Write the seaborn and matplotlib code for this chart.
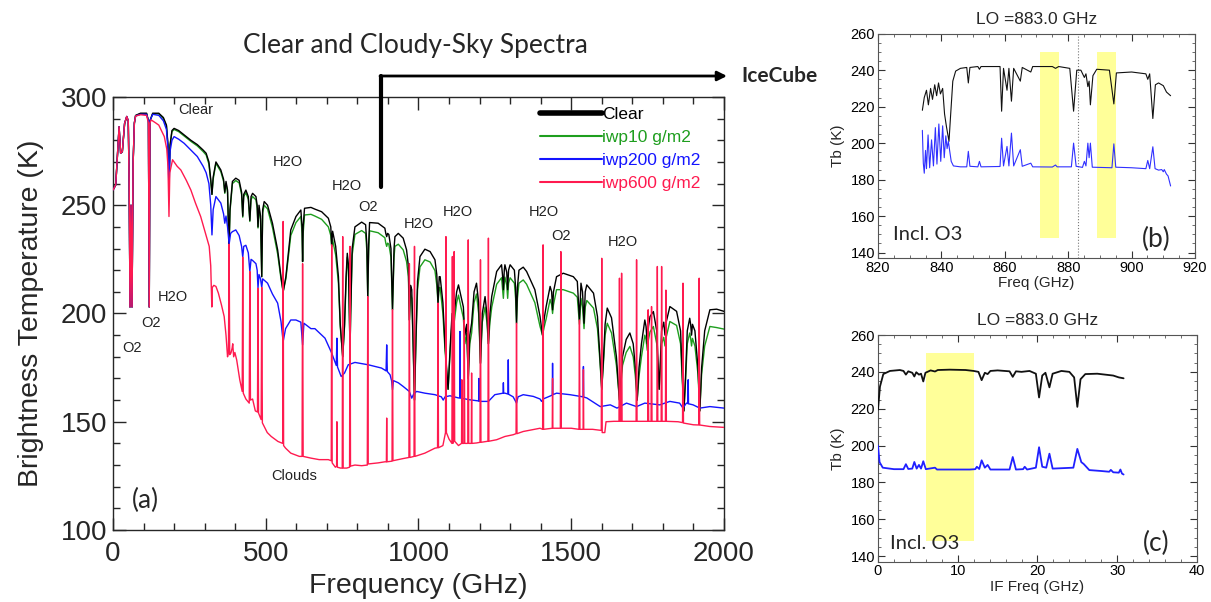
import seaborn as sns
import matplotlib.pyplot as plt
from matplotlib.ticker import MultipleLocator
from matplotlib.lines import Line2D

# ---------------- panel (a): frequency (GHz), Tb (K) ----------------
clear_pts = [
    (0, 257), (9, 259.4), (20, 286.3), (25, 274), (30.6, 274.8), (38, 287.8), (45, 291), (50, 289),
    (53, 260), (55.7, 203), (59, 250), (62.3, 203), (66, 270), (70, 288), (74, 291.5), (90, 292.5),
    (110, 292.5), (116, 289), (118.7, 203), (121, 289), (130, 292.5), (150, 292.5), (165, 290.5),
    (175, 287), (180, 278), (183.3, 262), (187, 278), (193, 284.5), (200, 285.5), (215, 284.5),
    (233, 282.5), (255, 280), (276, 278), (295, 275.5), (305, 274), (314, 270), (320, 262), (324, 255),
    (328, 263), (337, 270), (353, 266.3), (362, 262), (366, 256), (370, 261), (375, 257), (378, 240),
    (380.2, 232), (383, 248), (391, 261), (402, 262.5), (413, 261.5), (421, 256), (424.8, 245),
    (428, 255), (435, 257), (443, 254), (448, 243), (452, 254), (457, 255.5), (468, 254), (472, 250),
    (474.7, 240), (478, 250), (483, 245), (487, 217), (490, 248), (495, 251.7), (506, 250),
    (522, 241.7), (539, 229.4), (550, 217), (557, 210), (566, 217), (582, 238.6), (599, 244.8),
    (615, 247.8), (619, 240), (620.7, 224), (622.5, 240), (627, 248.6), (648, 249), (661, 248.2),
    (683, 247), (705, 244), (713, 240), (716, 231), (719, 238), (729, 231), (738, 217), (744, 195),
    (752, 180), (758, 195), (763, 217), (767, 227.8), (771, 222), (774, 200), (776, 183), (778, 200),
    (783, 230), (792, 240), (814, 242.2), (827, 241), (831, 232), (834, 207.8), (837, 232), (840, 242),
    (868, 241.7), (890, 239.4), (893, 237), (896, 235.5), (899, 237), (903, 236.5), (910, 230),
    (915, 201.7), (920, 230), (923, 235.5), (934, 237), (950, 234.8), (961, 229.4), (967, 222),
    (970.3, 197), (974, 213), (978, 211), (982, 190), (987, 160), (992, 190), (997, 215),
    (1005, 226.3), (1021, 229.7), (1038, 228.6), (1054, 224.8), (1060, 218), (1064, 204.8),
    (1068, 217), (1071, 217), (1080, 205), (1087, 185), (1097, 165), (1104, 185), (1110, 200),
    (1113, 190), (1117, 200), (1125, 210), (1131, 213.2), (1139, 208), (1147, 203), (1152, 190),
    (1158, 195), (1163, 170), (1168, 190), (1174, 195.5), (1182, 210), (1190, 214), (1197, 205),
    (1203, 177), (1209, 200), (1218, 207.8), (1224, 200), (1229, 186), (1234, 200), (1240, 208),
    (1256, 219.4), (1272, 222.5), (1275, 218), (1278, 211), (1281, 220), (1283, 222.5), (1289, 219),
    (1292, 211), (1295, 220), (1300, 222.5), (1314, 220), (1318, 212), (1321, 195.5), (1324, 212),
    (1329, 220), (1343, 221.4), (1354, 219.4), (1381, 211), (1398, 198.6), (1406, 190), (1412, 198),
    (1418, 203.2), (1431, 212.5), (1436, 210), (1439, 201.7), (1442, 210), (1452, 217), (1474, 218.6),
    (1507, 217), (1520, 214.8), (1527, 197), (1532, 214), (1537, 210), (1542, 195.5), (1546, 210),
    (1551, 213.2), (1573, 209.4), (1586, 198.6), (1594, 180), (1600, 165), (1606, 180), (1611, 195),
    (1618, 202.5), (1632, 198), (1648, 180), (1658, 160), (1668, 180), (1680, 188), (1692, 191),
    (1703, 186), (1710, 175), (1716, 160), (1722, 175), (1730, 186), (1741, 197), (1745, 194),
    (1749, 186), (1753, 194), (1758, 198.6), (1769, 200.9), (1780, 192), (1788, 165), (1796, 192),
    (1803, 196), (1807, 190), (1811, 196), (1823, 203.2), (1845, 201), (1858, 192), (1864, 170),
    (1869, 155), (1874, 170), (1880, 192), (1888, 197.8), (1891, 195), (1894, 190), (1897, 195),
    (1905, 192), (1915, 175), (1921, 155), (1927, 175), (1937, 192), (1954, 201.7), (1976, 202),
    (2000, 201),
]

iwp10_pts = [
    (0, 257), (9, 259.4), (20, 286), (25, 274), (30.6, 274.6), (38, 287.5), (45, 290.8), (50, 288.8),
    (53, 260), (55.7, 203), (59, 250), (62.3, 203), (66, 270), (70, 287.8), (74, 291.3), (90, 292.3),
    (110, 292.3), (116, 288.8), (118.7, 203), (121, 288.8), (130, 292.3), (150, 292.2), (165, 290),
    (175, 286.5), (180, 277.5), (183.3, 262), (187, 277.5), (193, 284), (200, 285), (215, 284),
    (233, 282), (255, 279.5), (276, 277.4), (295, 274.8), (305, 273.2), (314, 269), (320, 261),
    (324, 255), (328, 262), (337, 269.4), (353, 265.5), (362, 261), (366, 255.5), (370, 260),
    (375, 256), (378, 239), (380.2, 232), (383, 247), (391, 260), (402, 261.4), (413, 260.3),
    (421, 255), (424.8, 244.5), (428, 254), (435, 255.8), (443, 252.7), (448, 242.5), (452, 252.6),
    (457, 254), (468, 252.5), (472, 248.5), (474.7, 239.5), (478, 248.5), (483, 243.5), (487, 217),
    (490, 246.5), (495, 250), (506, 248.3), (522, 239.8), (539, 227.5), (550, 216), (557, 210),
    (566, 216), (582, 236), (599, 242), (615, 244.8), (619, 237), (620.7, 224), (622.5, 237),
    (627, 245.5), (648, 245.8), (661, 245), (683, 243.5), (705, 240), (713, 236), (716, 231),
    (719, 234), (729, 227), (738, 214), (744, 194), (752, 180), (758, 194), (763, 214), (767, 226),
    (771, 220), (774, 199), (776, 183), (778, 199), (783, 227), (792, 236.5), (814, 238.3),
    (827, 237), (831, 229), (834, 207.8), (837, 229), (840, 238.2), (868, 237.3), (890, 235),
    (893, 232.5), (896, 231), (899, 232.5), (903, 232), (910, 226), (915, 201.7), (920, 226),
    (923, 231), (934, 232), (950, 229.4), (961, 224), (967, 217), (970.3, 197), (974, 209),
    (978, 207), (982, 188), (987, 160), (992, 188), (997, 211), (1005, 221.5), (1021, 224.8),
    (1038, 223.8), (1054, 219.8), (1060, 213), (1064, 204.8), (1068, 212), (1071, 212), (1080, 200),
    (1087, 183), (1097, 165), (1104, 183), (1110, 196), (1113, 188), (1117, 196), (1125, 205),
    (1131, 208.5), (1139, 203), (1147, 198), (1152, 186), (1158, 191), (1163, 170), (1168, 186),
    (1174, 191), (1182, 205), (1190, 209), (1197, 200), (1203, 177), (1209, 196), (1218, 203),
    (1224, 196), (1229, 186), (1234, 196), (1240, 203), (1256, 213.5), (1272, 216.5), (1275, 212),
    (1278, 207), (1281, 214), (1283, 216.8), (1289, 213), (1292, 207), (1295, 214), (1300, 216.5),
    (1314, 214), (1318, 207), (1321, 195.5), (1324, 207), (1329, 214), (1343, 215.5), (1354, 213.5),
    (1381, 205), (1398, 194), (1406, 190), (1412, 194), (1418, 197.5), (1431, 206.5), (1436, 204),
    (1439, 200), (1442, 204), (1452, 211), (1474, 211), (1507, 209.4), (1520, 207.5), (1527, 195),
    (1532, 207), (1537, 203), (1542, 193), (1546, 203), (1551, 206), (1573, 202.5), (1586, 193),
    (1594, 178), (1600, 165), (1606, 178), (1611, 190), (1618, 195.5), (1632, 191), (1648, 176),
    (1658, 160), (1668, 176), (1680, 182), (1692, 184.8), (1703, 180), (1710, 171), (1716, 160),
    (1722, 171), (1730, 180), (1741, 190), (1745, 188), (1749, 183), (1753, 188), (1758, 191.5),
    (1769, 194), (1780, 186), (1788, 165), (1796, 186), (1803, 189), (1807, 185), (1811, 189),
    (1823, 196.3), (1845, 194.5), (1858, 186), (1864, 168), (1869, 155), (1874, 168), (1880, 186),
    (1888, 191), (1891, 188.5), (1894, 185), (1897, 188.5), (1905, 185), (1915, 172), (1921, 155),
    (1927, 172), (1937, 185), (1954, 194), (1976, 193.5), (2000, 192.8),
]

iwp200_pts = [
    (0, 257), (9, 259.4), (20, 286.3), (25, 274), (30.6, 274.8), (38, 287.8), (45, 291), (50, 289),
    (53, 260), (55.7, 203), (59, 250), (62.3, 203), (66, 270), (70, 288), (74, 291.2), (90, 292),
    (110, 292), (116, 289), (118.7, 203), (121, 289), (130, 292), (150, 291.5), (165, 289),
    (175, 285), (180, 276), (183.3, 257), (187, 275), (193, 280), (200, 281.7), (215, 280.5),
    (233, 278.6), (255, 275.5), (276, 272.5), (295, 268), (305, 265), (314, 260), (320, 250),
    (324, 236.3), (328, 248), (337, 254), (353, 251), (362, 246), (366, 241.7), (370, 245),
    (375, 240), (380.2, 232), (385, 237), (391, 237.8), (402, 238.6), (413, 236), (421, 231),
    (424.8, 226), (428, 231), (435, 231.5), (443, 228), (448, 219.4), (452, 225), (457, 224.5),
    (468, 223), (472, 220), (474.7, 211.7), (478, 218), (483, 216), (487, 212), (490, 216),
    (506, 214), (522, 209), (539, 204.8), (550, 196.3), (557, 187), (565, 193), (582, 197),
    (599, 197), (615, 196), (620.7, 185.5), (625, 195.5), (648, 193), (661, 193), (694, 188.6),
    (716, 181.7), (731, 176), (733, 188.6), (735, 175.3), (747, 170.9), (758, 172.5), (770, 176.3),
    (792, 177.4), (836, 176.3), (879, 174.8), (894, 173.5), (896, 185.5), (898, 173.2),
    (907, 171.7), (912, 169), (915, 164.8), (918, 169), (934, 168), (950, 166.3), (970, 164),
    (978, 160.9), (985, 163), (994, 164), (1021, 163.2), (1054, 162.5), (1075, 161.5), (1081, 160),
    (1087, 161.5), (1103, 162), (1131, 161), (1135, 161), (1136, 191.7), (1137, 161), (1165, 160.2),
    (1197, 159.6), (1198, 170), (1199, 159.5), (1207, 159.4), (1229, 159.4), (1250, 162.5),
    (1277, 163.2), (1278, 168), (1279, 163.2), (1283, 163.2), (1293, 162.8), (1294, 178.6),
    (1295, 162.7), (1310, 161.5), (1321, 158.6), (1326, 161.5), (1343, 162.5), (1376, 161.7),
    (1398, 160.5), (1403, 159.4), (1408, 160.5), (1438, 162.3), (1439, 177), (1440, 162.5),
    (1452, 163.2), (1496, 162.5), (1539, 161.5), (1540, 175.5), (1541, 161.4), (1551, 161),
    (1595, 157), (1628, 157.8), (1650, 156.3), (1681, 158.6), (1714, 157), (1741, 158.6),
    (1790, 157.8), (1823, 159.4), (1855, 158.6), (1866, 156.3), (1877, 158.6), (1882, 158.4),
    (1883, 169.4), (1884, 158.3), (1899, 157.8), (1921, 156.3), (1954, 157), (2000, 156.3),
]

iwp600_pts = [
    (0, 257), (9, 259.4), (20, 286.3), (25, 274), (30.6, 274.8), (38, 287.8), (45, 291), (50, 289),
    (53, 260), (55.7, 203), (59, 250), (62.3, 203), (66, 270), (70, 288), (74, 291.2), (90, 291.8),
    (110, 291.5), (116, 288), (118.7, 203), (121, 288), (125, 289.4), (140, 288), (150, 287),
    (160, 284), (168, 281.7), (176, 276), (180, 268), (183.3, 244.8), (186, 265), (195, 271),
    (210, 268), (222, 266.3), (240, 261.5), (255, 257), (270, 251), (287, 244.8), (305, 236),
    (315, 231), (320, 222), (322, 212), (323.5, 203), (325, 212), (330, 213), (337, 212.5),
    (345, 209.4), (355, 204), (364, 198.6), (370, 190), (375, 180), (378, 182), (380.2, 232),
    (382, 181), (386, 181.7), (390, 184), (392, 186), (395, 180), (399, 182), (405, 178.5),
    (415, 169.4), (423, 164), (424.8, 226), (426.5, 163.2), (435, 160.5), (446, 158.6), (448, 219.4),
    (450, 160), (457, 160.5), (466, 155), (473, 154.5), (474.7, 211.7), (476.5, 154), (485, 151),
    (487, 212), (489, 149.5), (505, 145), (518, 143.2), (540, 140.9), (555.5, 140), (557, 242.5),
    (558.5, 139), (565, 137.8), (582, 135.5), (610, 134), (619, 134), (620.7, 223), (622.5, 134),
    (648, 133.2), (675, 132.5), (705, 132.5), (714.5, 132), (716, 231.7), (717.5, 131), (728, 129),
    (732, 129.5), (733, 150), (734.5, 129), (745, 128.6), (750.5, 128.6), (752, 235.5), (753.5, 128.6),
    (765, 128.6), (774.5, 129), (776, 231), (777.5, 129.5), (792, 130), (814, 129.7), (832.5, 130),
    (834, 207.8), (835.5, 130.5), (868, 131), (890, 131.5), (895, 131.5), (896, 151.7), (897, 131.5),
    (913.5, 131.8), (915, 201.7), (916.5, 132), (950, 133), (968.8, 133.5), (970.3, 223),
    (971.8, 133.5), (985.5, 134), (987, 231), (988.5, 134), (1021, 135.5), (1054, 137.8),
    (1062.5, 138), (1064, 204.8), (1065.5, 138), (1080, 139), (1088.5, 145), (1090, 235.5),
    (1091.5, 145), (1100, 142), (1109.5, 140), (1111, 226.3), (1112.5, 140), (1115.5, 141),
    (1117, 228.6), (1118.5, 141), (1131, 139), (1141, 140), (1142, 169.4), (1143, 140),
    (1148.5, 140), (1150, 197), (1151.5, 140), (1161.5, 140), (1163, 234), (1164.5, 140),
    (1173, 140), (1174, 172.5), (1175, 140), (1190, 140.2), (1201.5, 140.5), (1203, 224.8),
    (1204.5, 140.5), (1227.5, 141), (1229, 234.8), (1230.5, 141), (1256, 141.7), (1283, 143.2),
    (1310, 144), (1319.5, 144.5), (1321, 195.5), (1322.5, 144.5), (1343, 145.5), (1398, 147),
    (1406.5, 146.5), (1408, 231.7), (1409.5, 146.5), (1438, 147), (1439, 170), (1440, 147),
    (1464.5, 147), (1466, 228.6), (1467.5, 147), (1500, 147), (1525.5, 146.5), (1527, 197),
    (1528.5, 146.5), (1539, 146.5), (1540, 174), (1541, 146.5), (1570, 146.5), (1598.5, 146),
    (1600, 225.5), (1601.5, 145), (1610, 145), (1614, 150), (1640, 150.2), (1656.5, 150.2),
    (1658, 216.3), (1659.5, 150.2), (1663.5, 150.2), (1665, 218.6), (1666.5, 150.2), (1700, 150.2),
    (1712.5, 150.2), (1714, 224.8), (1715.5, 150.2), (1750.5, 150.2), (1752, 201.7), (1753.5, 150.2),
    (1761.5, 150.2), (1763, 203.2), (1764.5, 150.2), (1780.5, 150.2), (1782, 221.7), (1783.5, 150.2),
    (1794.5, 150.2), (1796, 221.7), (1797.5, 150.2), (1808.5, 150.2), (1810, 210.8), (1811.5, 150.2),
    (1850, 150), (1864.5, 149.6), (1866, 214), (1867.5, 149.4), (1900, 148.6), (1917.5, 148.5),
    (1919, 216.3), (1920.5, 148.5), (1954, 147.8), (2000, 147.4),
]

series_names = ["Clear", "iwp10 g/m2", "iwp200 g/m2", "iwp600 g/m2"]
series_colors = ["#000000", "#1e9e1e", "#1414ff", "#ff1a4f"]

line_labels = ["Clear", "H2O", "H2O", "O2", "H2O", "H2O", "H2O", "O2", "H2O", "H2O", "O2", "O2", "Clouds"]
line_label_f = [271, 572, 765, 836, 1002, 1128, 1409, 1465, 1670, 195, 126, 63, 593]
line_label_tb = [294, 270.2, 258.9, 249.4, 241.4, 246.8, 247, 236, 232.8, 207.5, 195.5, 184, 124.8]

# ---------------- panel (b): RF frequency around LO ----------------
clear_b = [
    (834, 218), (834.6, 225), (835.3, 229), (835.9, 221), (836.6, 230), (837.2, 224), (837.9, 232),
    (838.5, 226), (839.1, 233), (839.7, 227), (840.4, 230), (841, 216), (841.6, 209), (842, 205),
    (842.4, 201), (842.9, 215), (843.6, 234), (844.5, 239.5), (846, 241), (848, 241.5), (848.5, 233),
    (849, 241.5), (851.5, 242), (852, 240.5), (852.5, 242), (858.5, 242), (859, 217.5), (859.6, 241),
    (860.7, 229), (861.3, 241), (862.1, 223), (862.8, 241), (864.9, 234), (865.5, 241.5),
    (868.2, 239), (868.8, 242), (875, 242), (876, 241), (877, 242), (880.5, 241), (881.7, 217.5),
    (882.7, 240), (884, 240), (885.1, 236), (885.6, 238), (886.2, 231), (886.6, 234), (887, 221),
    (887.8, 237), (889, 240.5), (893, 240), (894.4, 221.5), (895.2, 238.5), (900, 239),
    (904.5, 238), (905.1, 235), (905.7, 238), (906.7, 213.5), (907.5, 232), (908.5, 233),
    (910, 231.5), (911, 228), (912.3, 226),
]
cloudy_b = [
    (834, 207), (834.3, 189), (834.6, 183.5), (835, 196), (835.3, 186), (835.8, 204.5),
    (836.3, 186.5), (836.9, 201.8), (837.5, 187.5), (838.1, 208.5), (838.6, 188.5), (839.2, 210.5),
    (839.8, 190), (840.4, 209.5), (840.9, 192), (841.4, 204), (841.8, 197), (842.2, 201),
    (842.6, 196), (843.1, 190), (843.8, 187.5), (846, 187), (848, 187), (848.5, 195.5), (849, 187.3),
    (851.5, 187), (852, 190), (852.5, 187), (858.5, 187.2), (859, 202.7), (859.6, 187.5),
    (860.7, 198.2), (861.3, 187.5), (862.1, 205.5), (862.8, 187.5), (864.9, 196.4), (865.5, 187.3),
    (868.2, 189), (868.8, 187), (875, 186.9), (876, 188), (876.5, 187), (881, 187), (881.7, 200),
    (882.5, 187.3), (884.5, 186.7), (885.1, 190), (885.6, 187.5), (886.2, 200), (886.6, 192),
    (887, 200), (887.6, 186.8), (893.8, 186.5), (894.4, 199.6), (895, 186.8), (900, 186.5),
    (904.5, 186), (905.1, 190.5), (905.7, 186), (906.7, 198), (907.4, 186), (908.5, 185.2),
    (909.5, 185.5), (910, 184.3), (910.3, 185.5), (911, 183), (911.5, 182), (912.3, 176.5),
]
lo_freq = 883.0
bands_b = [(871, 877), (889, 895)]

# ---------------- panel (c): IF frequency ----------------
clear_c = [
    (0, 219.5), (0.25, 232), (0.67, 238.8), (1.5, 240.5), (2.75, 241), (3.2, 240.5), (3.5, 238.5),
    (3.8, 240.3), (4.3, 239.5), (4.56, 237.5), (4.8, 239.8), (5.14, 238.5), (5.4, 239),
    (5.68, 234.8), (5.95, 239.5), (6.6, 240.8), (7.15, 240.2), (7.5, 241), (9, 241.2), (11, 241),
    (12, 240.5), (12.6, 240), (13.0, 235.5), (13.4, 239.5), (13.75, 238.8), (14.1, 240.5),
    (15, 240.8), (16.5, 240.3), (16.9, 237.3), (17.3, 240.3), (18, 240), (19, 240.5), (19.8, 239),
    (20.2, 226.1), (20.6, 238), (21, 239.5), (21.5, 231.6), (21.9, 239), (23, 240.5), (24, 240),
    (24.6, 237), (25, 221), (25.4, 236), (26, 238.8), (27.5, 239), (28.5, 238.5), (29.5, 238),
    (30.2, 237), (30.8, 236.5),
]
cloudy_c = [
    (0, 200), (0.2, 191), (0.6, 188), (2, 187.2), (3.2, 187.2), (3.5, 189.9), (3.8, 187.3),
    (4.3, 187.5), (4.56, 191.1), (4.85, 187.5), (5.14, 189.5), (5.4, 187.5), (5.68, 191.5),
    (6.0, 187.2), (7.15, 188), (7.4, 187), (11.5, 187), (12.2, 187.2), (12.4, 188.5), (12.7, 187.3),
    (13.0, 192), (13.4, 188), (13.75, 189.5), (14.1, 187), (16.5, 187), (16.9, 193.8), (17.3, 187),
    (18.2, 187.2), (18.4, 188.5), (18.7, 187), (19.8, 188), (20.2, 199.1), (20.6, 188.5),
    (21.1, 188), (21.5, 195.6), (21.9, 187.5), (24.5, 188), (25, 198.2), (25.5, 191), (25.8, 190),
    (26.5, 186.7), (28, 186.2), (29, 185.8), (29.2, 186.8), (29.5, 185.5), (30.2, 185.3),
    (30.4, 187), (30.6, 184.8), (30.8, 184.3),
]
band_c = (6, 12)
band_tb = (148, 250)

sns.set_style("ticks")
plt.rcParams['font.family'] = ['Liberation Sans', 'DejaVu Sans']
plt.rcParams.update({'xtick.direction': 'in', 'ytick.direction': 'in',
                     'xtick.top': True, 'ytick.right': True})


def draw(ax, pts, color, lw, z, label=None):
    f, tb = zip(*pts)
    sns.lineplot(x=list(f), y=list(tb), sort=False, estimator=None, color=color,
                 lw=lw, zorder=z, label=label, ax=ax, legend=False)


fig = plt.figure(figsize=(12.11, 6.02), dpi=100)
ax_a = fig.add_axes([0.0933, 0.1196, 0.5045, 0.7193])
ax_b = fig.add_axes([0.725, 0.5714, 0.2618, 0.3726])
ax_c = fig.add_axes([0.725, 0.067, 0.2634, 0.3765])

# panel (a)
for pts, name, col, z in zip([clear_pts, iwp10_pts, iwp200_pts, iwp600_pts],
                             series_names, series_colors, [3, 2, 4, 5]):
    draw(ax_a, pts, col, 1.0, z, name)

ax_a.set_xlim(0, 2000)
ax_a.set_ylim(100, 300)
ax_a.xaxis.set_major_locator(MultipleLocator(500))
ax_a.xaxis.set_minor_locator(MultipleLocator(100))
ax_a.yaxis.set_major_locator(MultipleLocator(50))
ax_a.yaxis.set_minor_locator(MultipleLocator(10))
ax_a.tick_params(which='major', length=9, width=1, labelsize=20)
ax_a.tick_params(axis='y', which='major', pad=4)
ax_a.tick_params(axis='x', which='major', pad=8)
ax_a.tick_params(which='minor', length=5, width=1)
ax_a.tick_params(which='both', top=True, right=True)
ax_a.set_xlabel("Frequency (GHz)", fontsize=20.5)
ax_a.set_ylabel("Brightness Temperature (K)", fontsize=20.5)
ax_a.xaxis.set_label_coords(0.5, -0.1)
ax_a.yaxis.set_label_coords(-0.113, 0.5)
for s in ax_a.spines.values():
    s.set_linewidth(1.0)

for t, f, tb in zip(line_labels, line_label_f, line_label_tb):
    ax_a.text(f, tb, t, ha='center', va='center', fontsize=10.5, color='#222222')
ax_a.text(105, 113.7, "(a)", ha='center', va='center', fontsize=19, family=['Lato'])

leg = ax_a.legend(loc='upper left', bbox_to_anchor=(0.699, 0.977), frameon=False,
                  fontsize=12.5, handlelength=3.56, handletextpad=0.0, labelspacing=0.45,
                  borderpad=0, borderaxespad=0, labelcolor='linecolor')
leg.legend_handles[0].set_linewidth(4)
for h in leg.legend_handles[1:]:
    h.set_linewidth(1.5)

# panel (b)
for lo, hi in bands_b:
    ax_b.fill_between([lo, hi], band_tb[0], band_tb[1], color='#ffff99', lw=0, zorder=0)
ax_b.axvline(lo_freq, ls=':', color='#777777', lw=0.8, zorder=1)
draw(ax_b, clear_b, '#111111', 0.8, 3)
draw(ax_b, cloudy_b, '#3030ff', 0.8, 3)
ax_b.set_xlim(820, 920)
ax_b.set_ylim(137, 260)
ax_b.xaxis.set_major_locator(MultipleLocator(20))
ax_b.xaxis.set_minor_locator(MultipleLocator(5))
ax_b.set_xlabel("Freq (GHz)", fontsize=11, labelpad=1)
ax_b.set_title("LO =883.0 GHz", fontsize=12.5, pad=7)
ax_b.text(824.8, 150, "Incl. O3", ha='left', va='center', fontsize=14.5, family=['Lato'])
ax_b.text(907.7, 147.3, "(b)", ha='center', va='center', fontsize=19, family=['Lato'])

# panel (c)
ax_c.fill_between(list(band_c), band_tb[0], band_tb[1], color='#ffff99', lw=0, zorder=0)
draw(ax_c, clear_c, '#111111', 1.3, 3)
draw(ax_c, cloudy_c, '#2020ff', 1.3, 3)
ax_c.set_xlim(0, 40)
ax_c.set_ylim(137, 260)
ax_c.xaxis.set_major_locator(MultipleLocator(10))
ax_c.xaxis.set_minor_locator(MultipleLocator(2))
ax_c.set_xlabel("IF Freq (GHz)", fontsize=11, labelpad=1)
ax_c.set_title("LO =883.0 GHz", fontsize=12.5, pad=7)
ax_c.text(1.5, 146.7, "Incl. O3", ha='left', va='center', fontsize=14.5, family=['Lato'])
ax_c.text(34.9, 146.7, "(c)", ha='center', va='center', fontsize=19, family=['Lato'])

for ax in (ax_b, ax_c):
    ax.yaxis.set_major_locator(MultipleLocator(20))
    ax.yaxis.set_minor_locator(MultipleLocator(5))
    ax.tick_params(which='major', length=5, width=0.8, labelsize=10.5, pad=2, colors='#333333',
                   labelcolor='black')
    ax.tick_params(which='minor', length=2.5, width=0.6, colors='#555555')
    ax.tick_params(which='both', top=True, right=True)
    ax.set_ylabel("Tb (K)", fontsize=11, labelpad=4)
    for s in ax.spines.values():
        s.set_linewidth(0.8)
        s.set_color('#555555')

# headline, arrow and IceCube label
fig.text(415 / 1211, 1 - 45 / 602, "Clear and Cloudy-Sky Spectra", ha='center', va='center',
         fontsize=19, family=['Lato'])
fig.text(741 / 1211, 1 - 76 / 602, "IceCube", ha='left', va='center', fontsize=15,
         family=['Lato'], weight='bold')
fig.add_artist(Line2D([381 / 1211, 381 / 1211], [1 - 187 / 602, 1 - 76 / 602],
                      transform=fig.transFigure, color='black', lw=3, zorder=10))
ax_a.annotate("", xy=(727 / 1211, 1 - 76 / 602), xytext=(380 / 1211, 1 - 76 / 602),
              xycoords='figure fraction', textcoords='figure fraction', annotation_clip=False,
              arrowprops=dict(arrowstyle='-|>', lw=2, color='black', mutation_scale=14,
                              shrinkA=0, shrinkB=0))

fig.savefig("out.png", dpi=100)
